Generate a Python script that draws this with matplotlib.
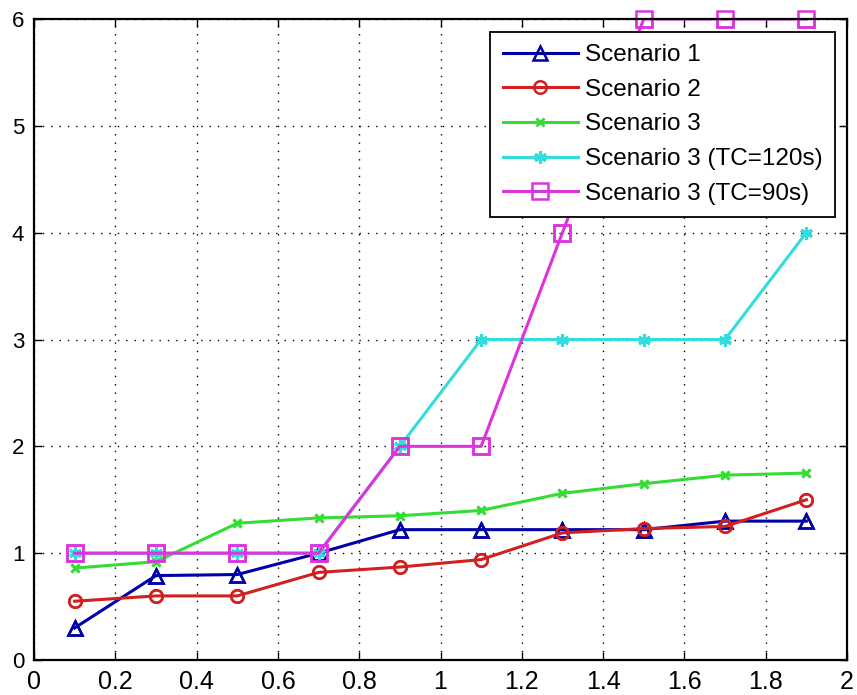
import matplotlib
matplotlib.use('Agg')
import matplotlib.pyplot as plt

# Data
x = [0.1, 0.3, 0.5, 0.7, 0.9, 1.1, 1.3, 1.5, 1.7, 1.9]
scenario1 = [0.30, 0.79, 0.80, 1.00, 1.22, 1.22, 1.22, 1.22, 1.30, 1.30]
scenario2 = [0.55, 0.60, 0.60, 0.82, 0.87, 0.94, 1.19, 1.23, 1.25, 1.50]
scenario3 = [0.86, 0.92, 1.28, 1.33, 1.35, 1.40, 1.56, 1.65, 1.73, 1.75]
scenario3_tc120 = [1, 1, 1, 1, 2, 3, 3, 3, 3, 4]
scenario3_tc90 = [1, 1, 1, 1, 2, 2, 4, 6, 6, 6]

labels = ['Scenario 1', 'Scenario 2', 'Scenario 3',
          'Scenario 3 (TC=120s)', 'Scenario 3 (TC=90s)']

plt.rcParams['font.family'] = ['Liberation Sans', 'DejaVu Sans']

fig = plt.figure(figsize=(8.57, 6.95), dpi=100)
ax = fig.add_axes([34/857, 35/695, 813/857, 641/695])

lw = 2.2
styles = [
    dict(color='#0000a8', marker='^', ms=10, mfc='none', mew=1.8),
    dict(color='#d02020', marker='o', ms=9, mfc='none', mew=1.8),
    dict(color='#33dd33', marker='x', ms=6, mew=2),
    dict(color='#33dddd', marker=(6, 2, 0), ms=9, mew=2.2),
    dict(color='#dd33dd', marker='s', ms=11, mfc='none', mew=1.8),
]
series = [scenario1, scenario2, scenario3, scenario3_tc120, scenario3_tc90]

for y, st, lab in zip(series, styles, labels):
    ax.plot(x, y, lw=lw, label=lab, **st)
    # markers at the axes edge are not clipped
    ax.plot(x, y, ls='none', clip_on=False, **st)

ax.set_xlim(0, 2)
ax.set_ylim(0, 6)
ax.set_xticks([0, 0.2, 0.4, 0.6, 0.8, 1, 1.2, 1.4, 1.6, 1.8, 2])
ax.set_xticklabels(['0', '0.2', '0.4', '0.6', '0.8', '1', '1.2', '1.4', '1.6', '1.8', '2'])
ax.set_yticks([0, 1, 2, 3, 4, 5, 6])

ax.grid(True, color='black', linestyle=(0, (1, 5)), linewidth=1.0)
ax.tick_params(direction='in', length=6, width=1, top=True, right=True,
               labelsize=16, pad=7)
for lab in ax.get_xticklabels():
    lab.set_fontsize(18)
for sp in ax.spines.values():
    sp.set_linewidth(1.6)
    sp.set_zorder(3)

leg = ax.legend(loc='upper right', bbox_to_anchor=(835/857, (695-32)/695),
                bbox_transform=fig.transFigure, borderaxespad=0,
                fontsize=17.5, fancybox=False, framealpha=1, edgecolor='black',
                handlelength=3.1, handletextpad=0.3, labelspacing=0.52,
                borderpad=0.5)
leg.get_frame().set_linewidth(1.3)
leg.set_zorder(5)

fig.savefig('out.png', dpi=100)
